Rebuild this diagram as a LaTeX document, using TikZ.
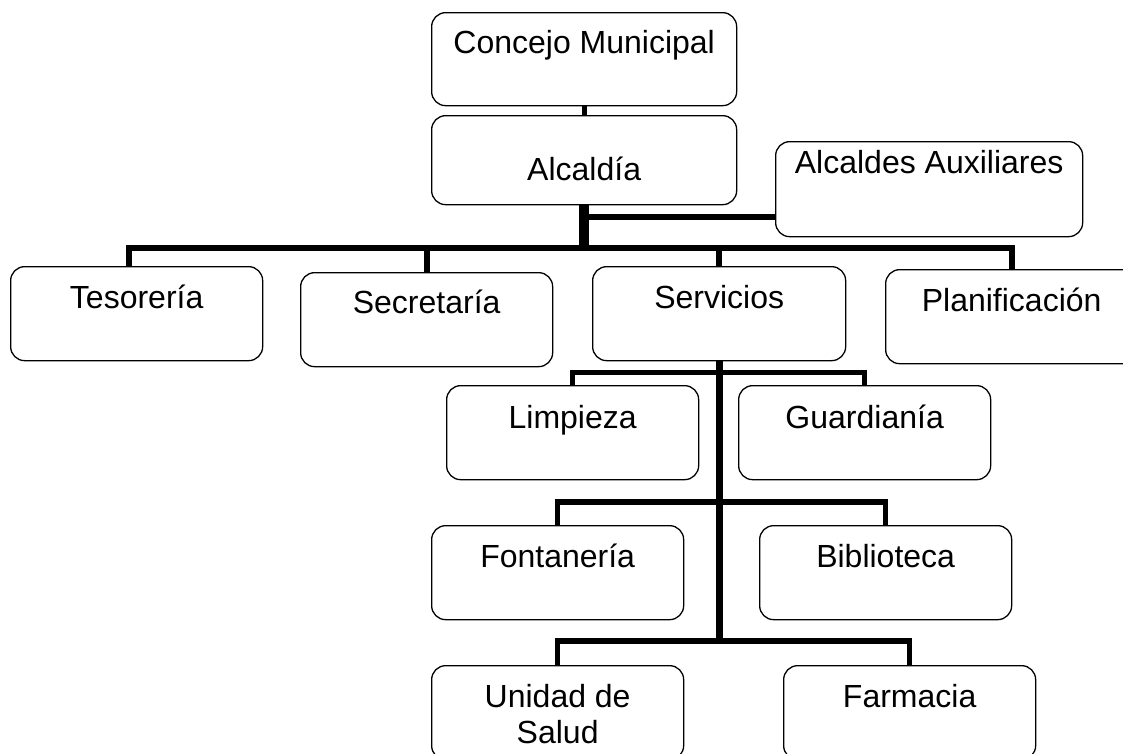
\documentclass[tikz,border=0pt]{standalone}
\usepackage{fontspec}
\setmainfont{Liberation Sans}
\begin{document}
\begin{tikzpicture}[x=1pt,y=-1pt,
  orgbox/.style={draw, line width=1.3pt, rounded corners=14pt, fill=white,
    anchor=north west, inner xsep=0pt, inner ysep=0pt,
    minimum width=252pt, minimum height=94pt,
    text height=42pt, text depth=52pt,
    font=\fontsize{32}{36}\selectfont},
  conn/.style={line width=6pt},
  subconn/.style={line width=5.5pt}]
\useasboundingbox (0,0) rectangle (1123,753);
\clip (0,0) rectangle (1123,753);

% coordinates for bar levels
\coordinate (bar) at (0,248);
\coordinate (auxy) at (0,216.5);
\coordinate (b1) at (0,372.5);
\coordinate (b2) at (0,502);
\coordinate (b3) at (0,641);
\coordinate (bend) at (0,644);

% boxes
\node[orgbox, minimum width=305pt, minimum height=93pt, text height=41pt, text depth=52pt] (cm) at (431,12) {Concejo Municipal};
\node[orgbox, minimum width=305pt, minimum height=89pt, text height=65pt, text depth=24pt] (alc) at (431,115) {Alcaldía};
\node[orgbox, minimum width=307pt, minimum height=95pt, text height=32pt, text depth=63pt] (aux) at (775,141) {Alcaldes Auxiliares};
\node[orgbox] (tes) at (10,266) {Tesorería};
\node[orgbox, text height=41pt, text depth=53pt] (sec) at (300,272) {Secretaría};
\node[orgbox, minimum width=253pt] (ser) at (592,266) {Servicios};
\node[orgbox] (plan) at (885,269) {Planificación};
\node[orgbox, text height=43pt, text depth=51pt] (lim) at (446,385) {Limpieza};
\node[orgbox, text height=43pt, text depth=51pt] (gua) at (738,385) {Guardianía};
\node[orgbox] (fon) at (431,525) {Fontanería};
\node[orgbox] (bib) at (759,525) {Biblioteca};
\node[orgbox] (uni) at (431,665) {\begin{tabular}[t]{@{}c@{}}Unidad de\\Salud\end{tabular}};
\node[orgbox] (far) at (783,665) {Farmacia};

% connectors
\draw[line width=5pt] (cm.south) -- (alc.north);
\draw[line width=10pt] (alc.south) -- (alc.south |- bar);
\draw[conn] (alc.south |- auxy) -- (aux.west |- auxy);
\draw[conn] ([xshift=-8pt]tes.north) |- (plan.north |- bar) -- (plan.north);
\draw[conn] (sec.north) -- (sec.north |- bar);
\draw[conn] (ser.north) -- (ser.north |- bar);
\draw[line width=7pt] (ser.south) -- (ser.south |- bend);
\draw[subconn] (lim.north) |- (gua.north |- b1) -- (gua.north);
\draw[subconn] (fon.north) |- (bib.north |- b2) -- (bib.north);
\draw[subconn] (uni.north) |- (far.north |- b3) -- (far.north);
\end{tikzpicture}
\end{document}
